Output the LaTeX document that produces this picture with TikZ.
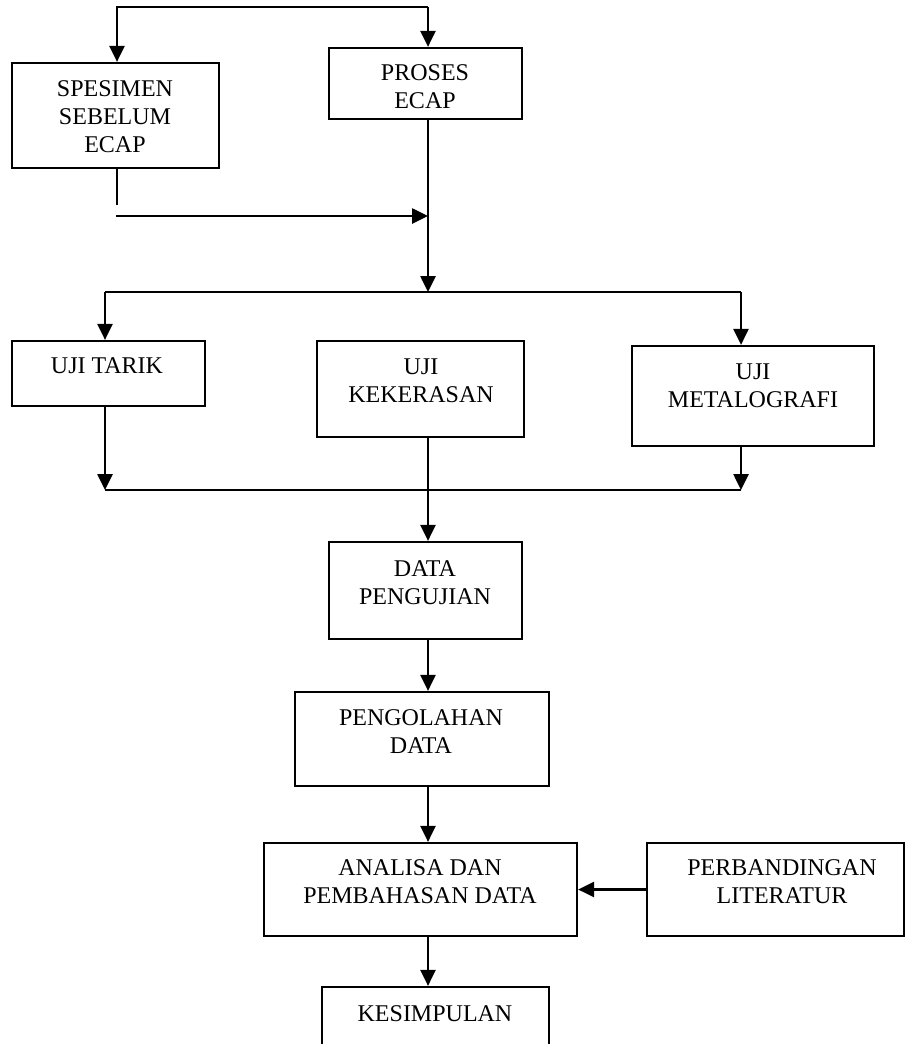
\documentclass[tikz,border=0pt]{standalone}
\usepackage{fontspec}
\setmainfont{Liberation Serif}
\usetikzlibrary{arrows.meta,fit}
\begin{document}
\begin{tikzpicture}[x=1pt,y=-1pt,
  box/.style={draw, line width=2.2pt, rectangle, inner sep=0pt},
  lbl/.style={align=center, anchor=base, inner sep=0pt, font=\fontsize{24}{28}\selectfont},
  conn/.style={line width=2.6pt},
  thinconn/.style={line width=1.8pt},
  arr/.style={conn, -{Triangle[length=16pt,width=15pt]}},
]
\useasboundingbox (0,0) rectangle (906,1044);
\clip (0,0) rectangle (906,1044);

% boxes
\node[box, fit={(12,63) (219,168)}] (spes) {};
\node[box, fit={(329,48) (522,119)}] (proses) {};
\node[box, fit={(12,341) (205,406)}] (tarik) {};
\node[box, fit={(317,341) (524,437)}] (keker) {};
\node[box, fit={(632,346) (874,446)}] (meta) {};
\node[box, fit={(329,542) (522,639)}] (data) {};
\node[box, fit={(295,692) (549,786)}] (olah) {};
\node[box, fit={(264,843) (577,936)}] (anal) {};
\node[box, fit={(647,843) (904,936)}] (banding) {};
\node[box, fit={(322,987) (549,1070)}] (kesim) {};

% labels (anchor = baseline of the last line)
\node[lbl] (tspes) at (115,152) {SPESIMEN\\SEBELUM\\ECAP};
\node[lbl] (tproses) at (425,108) {PROSES\\ECAP};
\node[lbl] (ttarik) at (107,373) {UJI TARIK};
\node[lbl] (tkeker) at (421,402) {UJI\\KEKERASAN};
\node[lbl] (tmeta) at (753,407) {UJI\\METALOGRAFI};
\node[lbl] (tdata) at (425,604) {DATA\\PENGUJIAN};
\node[lbl] (tolah) at (421,753) {PENGOLAHAN\\DATA};
\node[lbl] (tanal) at (420,903) {ANALISA DAN\\PEMBAHASAN DATA};
\node[lbl] (tbanding) at (782,903) {PERBANDINGAN\\LITERATUR};
\node[lbl] (tkesim) at (435,1021) {KESIMPULAN};

% coordinates
\coordinate (top1) at (117,7);
\coordinate (top2) at (428,7);
\coordinate (s1) at (117,205);
\coordinate (h1) at (116,216);
\coordinate (h2) at (428,216);
\coordinate (j1) at (428,292);
\coordinate (bl) at (105,292);
\coordinate (br) at (741,292);
\coordinate (cl) at (105,490);
\coordinate (cr) at (741,490);
\coordinate (cv) at (428,490);

% connectors
\draw[arr] (top2) -- (top1) -- (top1 |- spes.north);
\draw[arr] (top2) -- (top2 |- proses.north);
\draw[conn] (s1 |- spes.south) -- (s1);
\draw[arr] (h1) -- (h2);
\draw[arr] (j1 |- proses.south) -- (j1);
\draw[conn] (bl) -- (br);
\draw[arr] (bl) -- (bl |- tarik.north);
\draw[arr] (br) -- (br |- meta.north);
\draw[thinconn] (cl) -- (cr);
\draw[arr] (cl |- tarik.south) -- (cl);
\draw[arr] (cr |- meta.south) -- (cr);
\draw[arr] (cv |- keker.south) -- (cv |- data.north);
\draw[arr] (cv |- data.south) -- (cv |- olah.north);
\draw[arr] (cv |- olah.south) -- (cv |- anal.north);
\draw[arr] (banding.west) -- (anal.east);
\draw[arr] (cv |- anal.south) -- (cv |- kesim.north);
\end{tikzpicture}
\end{document}
